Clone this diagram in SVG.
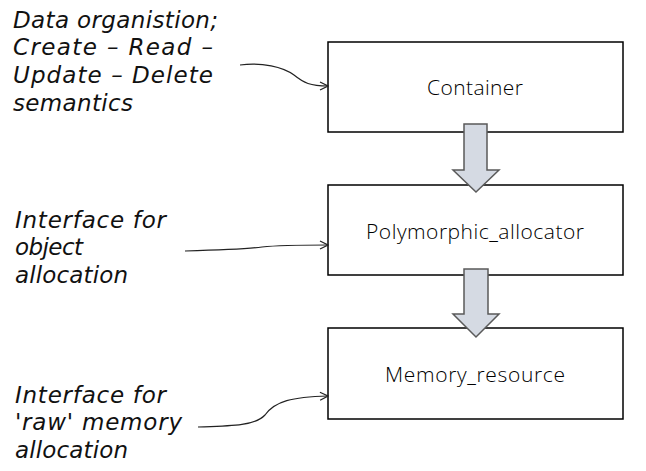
<svg xmlns="http://www.w3.org/2000/svg" width="646" height="471" viewBox="0 0 646 471">
<style>
.box{fill:#fff;stroke:#000;stroke-width:1.5}
.lbl{font-family:"Open Sans","Liberation Sans",sans-serif;font-size:21px;font-weight:300;fill:#000;text-anchor:middle}
.hand{font-family:"DejaVu Sans","Liberation Sans",sans-serif;font-size:23px;fill:#111;font-style:oblique}
.con{fill:none;stroke:#222;stroke-width:1.2;marker-end:url(#ah)}
.blk{fill:#d5dae3;stroke:#5a5a5a;stroke-width:1.5;stroke-linejoin:miter}
</style>
<defs>
<marker id="ah" markerWidth="10" markerHeight="10" refX="9" refY="5" orient="auto" markerUnits="userSpaceOnUse">
<path d="M1,1 L9,5 L1,9" fill="none" stroke="#222" stroke-width="1.2"/>
</marker>
</defs>
<rect width="646" height="471" fill="#fff"/>
<g id="container"><rect class="box" x="328" y="42" width="295" height="90"/><text class="lbl" x="475" y="95" textLength="96">Container</text></g>
<g id="polymorphic_allocator"><rect class="box" x="328" y="185" width="295" height="90"/><text class="lbl" x="475" y="239" textLength="218">Polymorphic_allocator</text></g>
<g id="memory_resource"><rect class="box" x="328" y="328" width="295" height="91"/><text class="lbl" x="475" y="382" textLength="180">Memory_resource</text></g>
<g id="note1">
<text class="hand" x="13" y="28" textLength="205">Data organistion;</text>
<text class="hand" x="13" y="55" textLength="200">Create – Read –</text>
<text class="hand" x="13" y="83" textLength="200">Update – Delete</text>
<text class="hand" x="13" y="111" textLength="120">semantics</text>
</g>
<g id="note2">
<text class="hand" x="15" y="228" textLength="151">Interface for</text>
<text class="hand" x="15" y="255" textLength="68">object</text>
<text class="hand" x="15" y="283" textLength="113">allocation</text>
</g>
<g id="note3">
<text class="hand" x="15" y="403" textLength="151">Interface for</text>
<text class="hand" x="15" y="430" textLength="167">'raw' memory</text>
<text class="hand" x="15" y="458" textLength="113">allocation</text>
</g>
<g id="connectors">
<path class="con" d="M240,65 C262,62 283,67 294,75 C304,83 310,86 328,86"/>
<path class="con" d="M185,251 C225,250 248,249 262,247 C280,245 300,245 328,245"/>
<path class="con" d="M198,427 C230,426 255,426 265,415 C275,401 292,397 328,396"/>
<path class="blk" d="M464,124 H487 V170 H499 L476,192 L453,170 H464 Z"/>
<path class="blk" d="M464,269 H488 V314 H499 L476,337 L453,314 H464 Z"/>
</g>
</svg>
